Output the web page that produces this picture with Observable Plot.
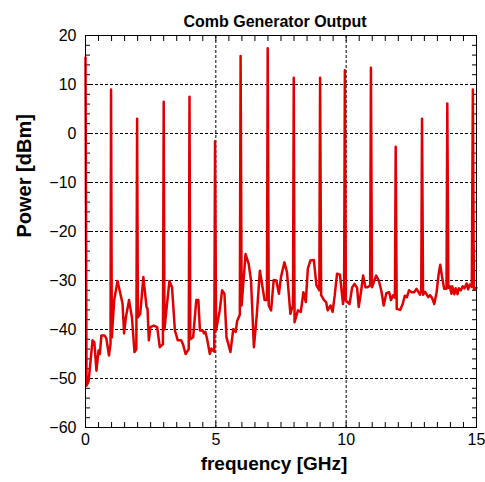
<!DOCTYPE html>
<html><head><meta charset="utf-8">
<script src="https://cdn.jsdelivr.net/npm/d3@7"></script>
<script src="https://cdn.jsdelivr.net/npm/@observablehq/plot@0.6"></script>
<style>body{margin:0;background:#fff}</style>
</head><body><div id="chart"></div>
<script>
const title = "Comb Generator Output";
const xLabel = "frequency [GHz]";
const yLabel = "Power [dBm]";
const xTicks = [0, 5, 10, 15];
const yTicks = [-60, -50, -40, -30, -20, -10, 0, 10, 20];
const xGrid = [5, 10];
const yGrid = [-50, -40, -30, -20, -10, 0, 10];
const xMinor = d3.range(0, 15.001, 0.5);
const yMinor = d3.range(-60, 20.001, 2);

const freq = [
  0.00, 0.04, 0.12, 0.27, 0.34, 0.42, 0.50, 0.55, 0.61, 0.73, 0.80, 0.90, 0.96, 0.98, 1.01,
  1.10, 1.23, 1.42, 1.48, 1.55, 1.67, 1.78, 1.88, 1.95, 1.98, 2.01,
  2.10, 2.22, 2.34, 2.38, 2.43, 2.49, 2.62, 2.75, 2.85, 2.97, 3.00, 3.03,
  3.07, 3.22, 3.32, 3.43, 3.54, 3.67, 3.74, 3.84, 3.96, 3.99, 4.02,
  4.13, 4.25, 4.33, 4.39, 4.50, 4.55, 4.60, 4.66, 4.77, 4.83, 4.94, 4.97, 5.01,
  5.15, 5.24, 5.33, 5.41, 5.56, 5.67, 5.76, 5.82, 5.92, 5.95, 5.99,
  6.14, 6.26, 6.35, 6.46, 6.57, 6.69, 6.78, 6.87, 6.96, 6.99, 7.03,
  7.12, 7.22, 7.32, 7.42, 7.50, 7.63, 7.73, 7.86, 7.96, 7.99, 8.02,
  8.15, 8.26, 8.36, 8.45, 8.53, 8.63, 8.76, 8.86, 8.97, 9.00, 9.04,
  9.15, 9.23, 9.29, 9.40, 9.48, 9.56, 9.65, 9.76, 9.88, 9.92, 9.95, 9.99,
  10.13, 10.23, 10.32, 10.42, 10.48, 10.57, 10.65, 10.74, 10.82, 10.92, 10.95, 10.99,
  11.15, 11.25, 11.35, 11.44, 11.54, 11.65, 11.72, 11.80, 11.87, 11.90, 11.94,
  12.07, 12.17, 12.25, 12.33, 12.41, 12.51, 12.61, 12.70, 12.83, 12.88, 12.91, 12.95,
  13.03, 13.15, 13.22, 13.29, 13.38, 13.47, 13.55, 13.61, 13.68, 13.76, 13.85, 13.88, 13.92,
  13.98, 14.04, 14.07, 14.15, 14.20, 14.27, 14.32, 14.40, 14.47, 14.54, 14.62, 14.68, 14.74, 14.82, 14.86, 14.90, 15.00
];
const power = [
  15.5, -51.5, -50.5, -42.2, -42.6, -48.4, -44.3, -45.0, -41.2, -41.2, -41.8, -45.3, -43.0, 9.0, -41.6,
  -34.0, -30.1, -34.7, -40.8, -37.5, -34.0, -37.5, -44.6, -44.0, 3.0, -37.5,
  -36.8, -29.3, -35.4, -35.8, -42.2, -39.5, -39.2, -39.5, -43.6, -43.0, 6.5, -40.0,
  -37.8, -30.1, -31.4, -40.2, -42.2, -42.2, -43.0, -45.0, -44.0, 7.5, -42.0,
  -41.6, -34.0, -34.0, -40.2, -40.2, -40.8, -40.5, -41.8, -45.0, -43.9, -44.5, -1.6, -40.2,
  -36.1, -32.0, -32.7, -41.6, -44.6, -39.9, -40.5, -38.2, -37.0, 15.8, -35.1,
  -24.6, -26.6, -30.0, -43.6, -37.1, -28.0, -31.0, -34.0, -34.0, 17.4, -35.1,
  -36.1, -29.9, -30.0, -32.7, -29.3, -26.3, -28.3, -36.8, -35.0, 11.4, -38.5,
  -36.1, -36.4, -32.4, -34.4, -27.6, -25.9, -25.8, -31.0, -32.0, 11.4, -33.0,
  -34.0, -34.4, -36.1, -35.1, -36.4, -33.1, -28.6, -28.8, -34.8, -33.0, 12.9, -34.1,
  -34.8, -31.4, -30.7, -31.5, -35.4, -32.3, -29.0, -31.4, -31.4, -31.0, 13.4, -31.4,
  -29.0, -30.0, -32.1, -35.1, -32.6, -32.4, -34.0, -33.0, -33.5, -2.7, -35.8,
  -36.0, -34.8, -33.1, -33.4, -32.0, -32.4, -32.4, -31.7, -32.9, -32.0, 3.0, -32.9,
  -32.3, -33.4, -33.0, -33.5, -34.8, -32.4, -28.6, -26.8, -29.3, -31.7, -31.7, 6.1, -31.5,
  -31.2, -32.7, -31.2, -32.8, -31.6, -32.8, -31.6, -32.0, -31.2, -31.6, -30.6, -31.8, -30.8, -31.3, 9.0, -31.8, -31.5
];

const data = freq.map((f, i) => ({f, p: power[i]}));
const font = "'Liberation Sans', Arial, sans-serif";

const chart = Plot.plot({
  width: 485, height: 482,
  marginLeft: 85, marginRight: 9, marginTop: 35, marginBottom: 55,
  style: {fontFamily: font, fontSize: "16px", color: "black", background: "white"},
  x: {domain: [0, 15]},
  y: {domain: [-60, 20]},
  marks: [
    Plot.gridX(xGrid, {stroke: "black", strokeOpacity: 1, strokeWidth: 1, strokeDasharray: "3,2"}),
    Plot.gridY(yGrid, {stroke: "black", strokeOpacity: 1, strokeWidth: 1, strokeDasharray: "3,2"}),
    Plot.axisX(xMinor, {anchor: "bottom", tickSize: -5, fill: "none", label: null}),
    Plot.axisX(xMinor, {anchor: "top", tickSize: -5, fill: "none", label: null}),
    Plot.axisY(yMinor, {anchor: "left", tickSize: -5, fill: "none", label: null}),
    Plot.axisY(yMinor, {anchor: "right", tickSize: -5, fill: "none", label: null}),
    Plot.axisX(xTicks, {anchor: "bottom", tickSize: 0, tickPadding: 6, fontSize: 16, label: null}),
    Plot.axisY(yTicks, {anchor: "left", tickSize: 0, tickPadding: 9, fontSize: 16, label: null}),
    Plot.line(data, {x: "f", y: "p", stroke: "#e00000", strokeWidth: 2.5}),
    Plot.frame({stroke: "black", strokeWidth: 1}),
    Plot.text([title], {text: d => d, frameAnchor: "top", dy: -20, dx: -6, fontSize: 16, fontWeight: "bold"}),
    Plot.text([xLabel], {text: d => d, frameAnchor: "bottom", dy: 42, dx: -7, fontSize: 19, fontWeight: "bold"}),
    Plot.text([yLabel], {text: d => d, frameAnchor: "left", dx: -61, dy: 6, rotate: -90, fontSize: 20, fontWeight: "bold"})
  ]
});
document.getElementById("chart").appendChild(chart);
</script>
</body></html>
